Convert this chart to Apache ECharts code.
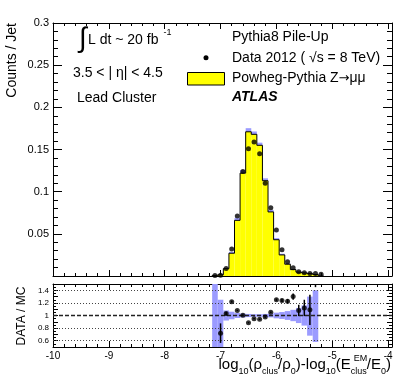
<!DOCTYPE html>
<html>
<head>
<meta charset="utf-8">
<script src="https://cdn.jsdelivr.net/npm/echarts@6/dist/echarts.min.js"></script>
<style>
html, body { margin: 0; padding: 0; background: #fff; }
#chart { width: 411px; height: 381px; }
</style>
</head>
<body>
<div id="chart"></div>
<script>
// bins of log10(rho_clus/rho_0) - log10(E_clus/E_0), width 0.1
const binCenters = [-7.1, -7.0, -6.9, -6.8, -6.7, -6.6, -6.5, -6.4, -6.3, -6.2,
                    -6.1, -6.0, -5.9, -5.8, -5.7, -5.6, -5.5, -5.4, -5.3, -5.2];
const binWidth = 0.1;
// Powheg-Pythia Z->mumu (MC), counts / jet
const mcCounts = [0.0007, 0.0014, 0.0087, 0.027, 0.066, 0.122, 0.171, 0.168, 0.155, 0.113,
                  0.076, 0.043, 0.025, 0.014, 0.0076, 0.0046, 0.0036, 0.0028, 0.0017, 0];
// Data 2012
const dataCounts = [0.0005, 0.001, 0.009, 0.032, 0.071, 0.124, 0.151, 0.159, 0.145, 0.110,
                    0.081, 0.0545, 0.031, 0.017, 0.0099, 0.005, 0.004, 0.003, 0.003, 0.002];
// MC uncertainty band (relative to 1)
const bandLo = [0.4, 0.4, 0.92, 0.94, 0.96, 0.97, 0.975, 0.98, 0.98, 0.975,
                0.97, 0.955, 0.945, 0.93, 0.91, 0.88, 0.84, 0.68, 0.58, null];
const bandHi = [1.6, 1.25, 1.08, 1.06, 1.04, 1.03, 1.025, 1.02, 1.02, 1.025,
                1.03, 1.045, 1.055, 1.07, 1.09, 1.12, 1.16, 1.30, 1.40, null];
// DATA / MC
const ratioX = [-7.0, -6.9, -6.8, -6.7, -6.6, -6.5, -6.4, -6.3, -6.2, -6.1,
                -6.0, -5.9, -5.8, -5.7, -5.6, -5.5, -5.4, -5.3];
const ratioVal = [0.72, 1.03, 1.22, 1.08, 1.005, 0.885, 0.95, 0.94, 0.975, 1.05,
                  1.25, 1.24, 1.225, 1.30, 1.08, 1.12, 1.09, 1.75];
const ratioErr = [0.155, 0.025, 0.015, 0.01, 0.01, 0.01, 0.01, 0.01, 0.01, 0.012,
                  0.018, 0.025, 0.035, 0.05, 0.09, 0.13, 0.24, 0.30];
const ratioGridLines = [0.6, 0.8, 1.2, 1.4];

const FONT = '"Liberation Sans", Arial, Helvetica, sans-serif';
const SYMFONT = '"DejaVu Sans", sans-serif';
const bandColor = '#9b9bff';

const chart = echarts.init(document.getElementById('chart'));

// text helpers (measure with canvas so pieces can sit next to each other)
const ctx = document.createElement('canvas').getContext('2d');
function tw(t, size, family) {
  ctx.font = size + 'px ' + (family || FONT);
  return ctx.measureText(t).width;
}
function txt(t, x, y, size, extra, family) {
  return Object.assign({
    type: 'text', x: x, y: y, silent: true,
    style: {
      text: t, fill: '#000', fontSize: size, fontFamily: family || FONT,
      textAlign: 'left', align: 'left',
      textVerticalAlign: 'middle', verticalAlign: 'middle'
    }
  }, extra || {});
}
function run(parts, x, y, alignRight) {
  const w = parts.map(p => p.noAdv ? 0 : tw(p.t, p.size, p.font));
  const total = w.reduce((a, b) => a + b, 0);
  let cx = alignRight ? x - total : x;
  const out = [];
  parts.forEach((p, i) => {
    out.push(txt(p.t, cx + (p.dx || 0), y + (p.dy || 0), p.size, null, p.font));
    cx += w[i];
  });
  return out;
}

function xAxisFor(grid, pos, labels) {
  return {
    type: 'value', gridIndex: grid, position: pos, min: -10, max: -3.93, interval: 1,
    axisLine: { show: true, onZero: false, lineStyle: { color: '#000', width: 1 } },
    axisTick: { show: true, inside: true, length: 6, lineStyle: { color: '#000' } },
    minorTick: { show: true, splitNumber: 5, length: 3, lineStyle: { color: '#000' } },
    splitLine: { show: false },
    axisLabel: {
      show: labels, color: '#000', fontSize: 10, fontFamily: FONT, margin: 4,
      formatter: v => Math.abs(v - Math.round(v)) < 1e-6 ? String(Math.round(v)) : ''
    }
  };
}
function yAxisFor(grid, pos, labels, min, max, interval, fmt, size, tickLen) {
  return {
    type: 'value', gridIndex: grid, position: pos, min: min, max: max, interval: interval,
    axisLine: { show: true, onZero: false, lineStyle: { color: '#000', width: 1 } },
    axisTick: { show: true, inside: true, length: tickLen, lineStyle: { color: '#000' } },
    minorTick: { show: true, splitNumber: grid === 0 ? 5 : 2, length: grid === 0 ? 5 : 3, lineStyle: { color: '#000' } },
    splitLine: { show: false },
    axisLabel: { show: labels, color: '#000', fontSize: size, fontFamily: FONT, margin: 4, formatter: fmt }
  };
}

function rectItem(fill) {
  return function (params, api) {
    const x = api.value(0);
    const p0 = api.coord([x - binWidth / 2, api.value(2)]);
    const p1 = api.coord([x + binWidth / 2, api.value(1)]);
    return { type: 'rect', shape: { x: p0[0], y: p0[1], width: p1[0] - p0[0], height: p1[1] - p0[1] }, style: { fill: fill } };
  };
}

const topBand = [], ratioBand = [];
binCenters.forEach((x, i) => {
  if (bandLo[i] == null) return;
  topBand.push([x, mcCounts[i] * bandLo[i], mcCounts[i] * bandHi[i]]);
  ratioBand.push([x, bandLo[i], bandHi[i]]);
});

const option = {
  animation: false,
  backgroundColor: '#fff',
  grid: [
    { left: 53, top: 23, right: 19, height: 253 },
    { left: 53, top: 284, right: 19, height: 63 }
  ],
  xAxis: [
    xAxisFor(0, 'bottom', false),
    xAxisFor(0, 'top', false),
    xAxisFor(1, 'bottom', true),
    xAxisFor(1, 'top', false)
  ],
  yAxis: [
    yAxisFor(0, 'left', true, 0, 0.3, 0.05, v => v === 0 ? '' : String(parseFloat(v.toFixed(2))), 11, 9),
    yAxisFor(0, 'right', false, 0, 0.3, 0.05, null, 11, 9),
    yAxisFor(1, 'left', true, 0.5, 1.5, 0.1, v => {
      const k = Math.round(v * 10);
      return (k % 2 === 0 && k >= 6 && k <= 14) ? String(parseFloat(v.toFixed(1))) : '';
    }, 8, 5),
    yAxisFor(1, 'right', false, 0.5, 1.5, 0.1, null, 8, 5)
  ],
  series: [
    // MC band, top panel
    { type: 'custom', xAxisIndex: 0, yAxisIndex: 0, z: 2, clip: true, silent: true,
      renderItem: rectItem(bandColor), data: topBand },
    // MC fill
    { type: 'custom', xAxisIndex: 0, yAxisIndex: 0, z: 3, clip: true, silent: true,
      renderItem: rectItem('#ffff00'),
      data: binCenters.map((x, i) => [x, 0, mcCounts[i]]) },
    // MC outline
    { type: 'custom', xAxisIndex: 0, yAxisIndex: 0, z: 4, clip: true, silent: true,
      renderItem: function (params, api) {
        const i = params.dataIndex;
        const x = api.value(0), v = api.value(1);
        const prev = i > 0 ? mcCounts[i - 1] : 0;
        const pts = [
          api.coord([x - binWidth / 2, prev]),
          api.coord([x - binWidth / 2, v]),
          api.coord([x + binWidth / 2, v])
        ];
        if (i === mcCounts.length - 1) pts.push(api.coord([x + binWidth / 2, 0]));
        return { type: 'polyline', shape: { points: pts }, style: { stroke: '#000', lineWidth: 1, fill: null } };
      },
      data: binCenters.map((x, i) => [x, mcCounts[i]]) },
    // data points
    { type: 'scatter', xAxisIndex: 0, yAxisIndex: 0, z: 5, symbol: 'circle', symbolSize: 5,
      itemStyle: { color: '#000' }, silent: true,
      data: binCenters.map((x, i) => [x, dataCounts[i]]) },

    // ratio: dotted grid lines
    { type: 'line', xAxisIndex: 2, yAxisIndex: 2, z: 1, data: [], silent: true,
      markLine: { silent: true, symbol: ['none', 'none'], label: { show: false }, animation: false,
        lineStyle: { type: [1, 2], color: '#444', width: 1 },
        data: ratioGridLines.map(v => ({ yAxis: v })) } },
    // ratio band
    { type: 'custom', xAxisIndex: 2, yAxisIndex: 2, z: 2, clip: true, silent: true,
      renderItem: rectItem(bandColor), data: ratioBand },
    // dashed line at 1
    { type: 'line', xAxisIndex: 2, yAxisIndex: 2, z: 3, data: [], silent: true,
      markLine: { silent: true, symbol: ['none', 'none'], label: { show: false }, animation: false,
        lineStyle: { type: [4, 2], color: '#222', width: 1.3 },
        data: [{ yAxis: 1 }] } },
    // ratio error bars
    { type: 'custom', xAxisIndex: 2, yAxisIndex: 2, z: 4, clip: true, silent: true,
      renderItem: function (params, api) {
        const x = api.value(0), v = api.value(1), e = api.value(2);
        const a = api.coord([x, v - e]), b = api.coord([x, v + e]);
        return { type: 'line', shape: { x1: a[0], y1: a[1], x2: b[0], y2: b[1] }, style: { stroke: '#000', lineWidth: 1.5 } };
      },
      data: ratioX.map((x, i) => [x, ratioVal[i], ratioErr[i]]) },
    // ratio points
    { type: 'scatter', xAxisIndex: 2, yAxisIndex: 2, z: 5, symbol: 'circle', symbolSize: 5,
      itemStyle: { color: '#000' }, silent: true, clip: true,
      data: ratioX.map((x, i) => [x, ratioVal[i]]) }
  ],
  graphic: [].concat(
    // axis titles
    [txt('Counts / Jet', 12, 23, 14, { rotation: Math.PI / 2, style: { text: 'Counts / Jet', fill: '#000', fontSize: 14, fontFamily: FONT, textAlign: 'right', align: 'right', textVerticalAlign: 'middle', verticalAlign: 'middle' } }),
     txt('DATA / MC', 22, 316, 12, { rotation: Math.PI / 2, style: { text: 'DATA / MC', fill: '#000', fontSize: 12, fontFamily: FONT, textAlign: 'center', align: 'center', textVerticalAlign: 'middle', verticalAlign: 'middle' } })],
    run([
      { t: 'log', size: 15 }, { t: '10', size: 9, dy: 7 },
      { t: '(ρ', size: 15 }, { t: 'clus', size: 9, dy: 7 },
      { t: '/ρ', size: 15 }, { t: '0', size: 9, dy: 7 },
      { t: ')-log', size: 15 }, { t: '10', size: 9, dy: 7 },
      { t: '(E', size: 15 }, { t: 'EM', size: 9, dy: -6, dx: 3, noAdv: true }, { t: 'clus', size: 9, dy: 7 },
      { t: '/E', size: 15 }, { t: '0', size: 9, dy: 7 },
      { t: ')', size: 15 }
    ], 391, 365, true),
    // luminosity / selection labels
    [txt('∫', 79, 39, 28)],
    run([{ t: 'L dt ~ 20 fb', size: 14 }, { t: '-1', size: 9, dy: -7, dx: 5 }], 88, 40, false),
    [txt('3.5 < | η| < 4.5', 73, 73, 14),
     txt('Lead Cluster', 77, 98, 14)],
    // legend
    [txt('Pythia8 Pile-Up', 232, 37, 14),
     { type: 'circle', shape: { cx: 206, cy: 57.7, r: 2.5 }, style: { fill: '#000' }, silent: true },
     txt('Data 2012 ( √s = 8 TeV)', 232, 58, 14),
     { type: 'rect', shape: { x: 187.5, y: 72.5, width: 37, height: 12.5 }, style: { fill: '#ffff00', stroke: '#000', lineWidth: 1 }, silent: true }],
    run([{ t: 'Powheg-Pythia Z', size: 14 }, { t: '→', size: 13, font: SYMFONT }, { t: 'μμ', size: 14 }], 232, 78.5, false),
    [{ type: 'text', x: 232, y: 97.5, silent: true, style: { text: 'ATLAS', fill: '#000', fontSize: 14, fontWeight: 'bold', fontStyle: 'italic', fontFamily: FONT, textAlign: 'left', align: 'left', textVerticalAlign: 'middle', verticalAlign: 'middle' } }]
  )
};

chart.setOption(option);
</script>
</body>
</html>
